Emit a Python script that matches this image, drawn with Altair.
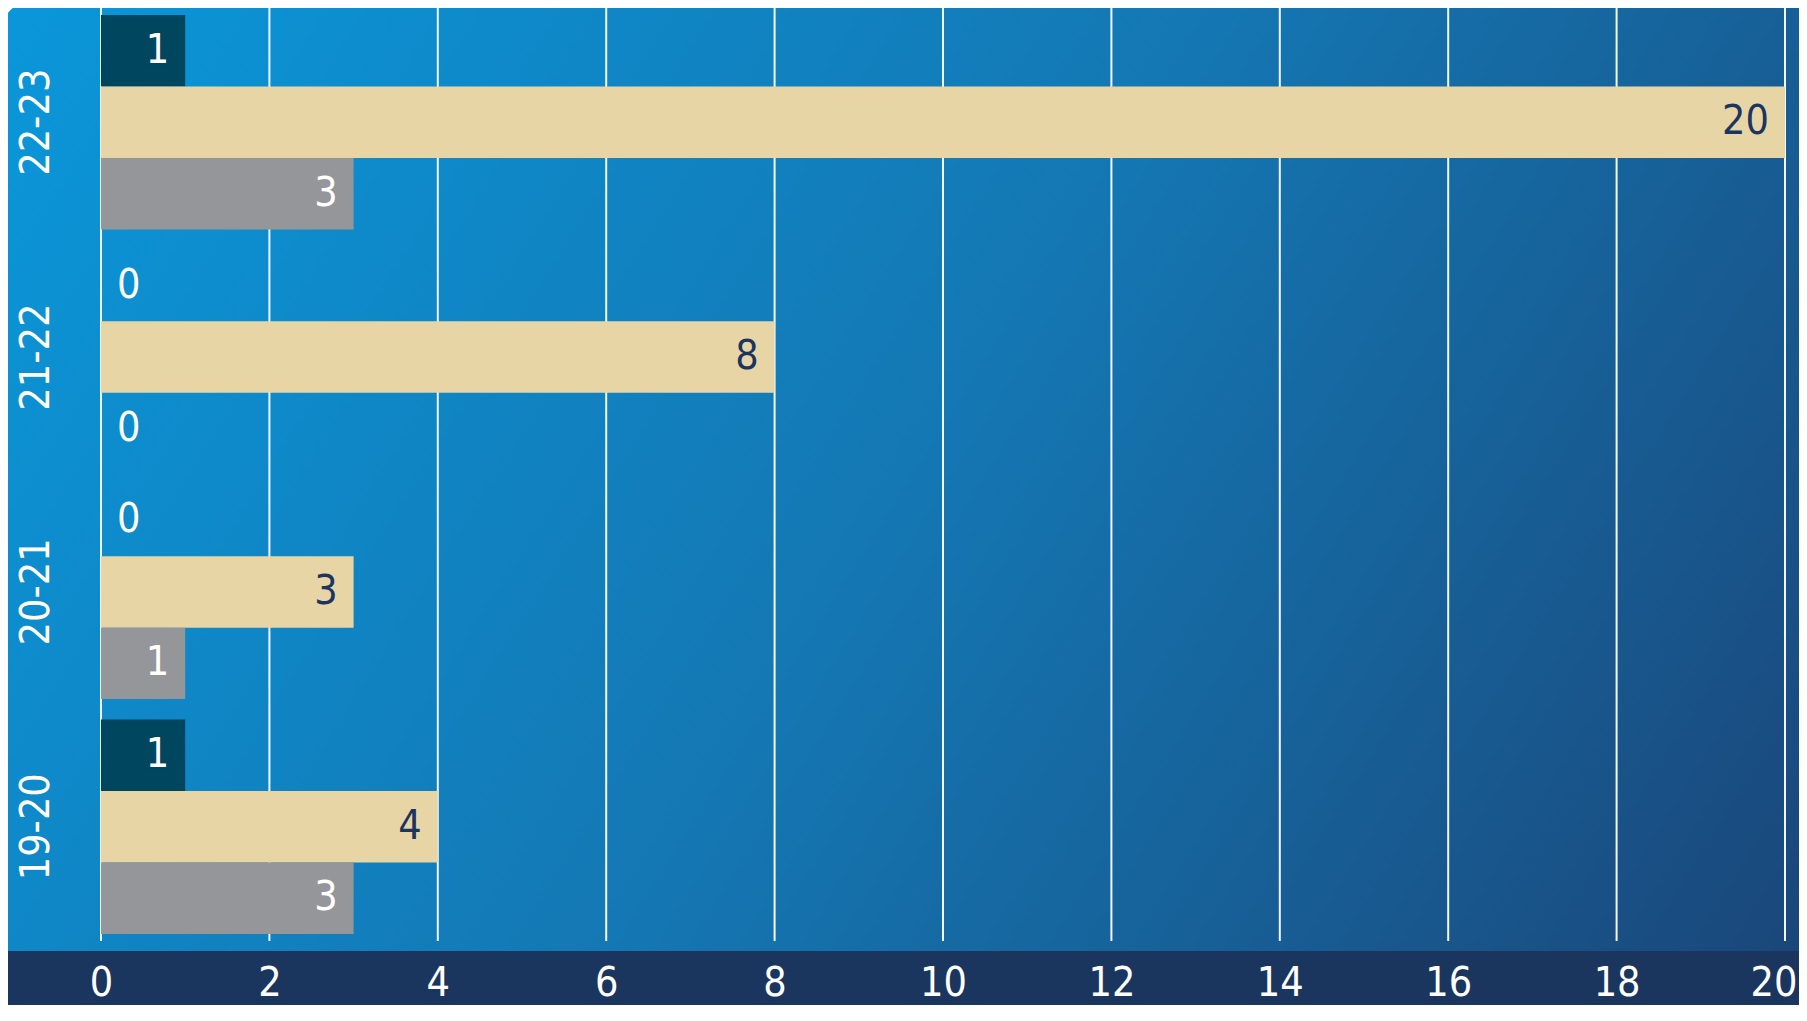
import altair as alt
import pandas as pd

# ---- data ----
years = ["19-20", "20-21", "21-22", "22-23"]
series_names = ["A", "B", "C"]          # top, middle, bottom bar in each group
series_a = [1, 0, 0, 1]                 # dark teal bars
series_b = [4, 3, 8, 20]                # tan bars
series_c = [3, 1, 0, 3]                 # gray bars
series_colors = ["#01465f", "#e8d5a5", "#959699"]
tick_values = [0, 2, 4, 6, 8, 10, 12, 14, 16, 18, 20]

rows = []
for i, y in enumerate(years):
    for s, vals in zip(series_names, [series_a, series_b, series_c]):
        rows.append({"year": y, "series": s, "value": vals[i]})
df = pd.DataFrame(rows)
ticks_df = pd.DataFrame({"t": tick_values})
one = pd.DataFrame({"k": [0]})

W, H = 1684, 933
PAD_L, PAD_R, PAD_B = 93, 14, 64
FONT = "Liberation Sans Narrow, DejaVu Sans Condensed, sans-serif"
FS = 41

x_scale = alt.Scale(domain=[0, 20], nice=False, zero=True)
x_axis = alt.Axis(values=tick_values, title=None, grid=False, domain=False,
                  ticks=False, tickSize=0, labelFlush=False, labelOverlap=False,
                  labelAlign={"condition": {"test": "datum.value == 20", "value": "right"},
                              "value": "center"},
                  labelOffset={"condition": {"test": "datum.value == 20", "value": 12},
                               "value": 0},
                  labelFont=FONT, labelFontSize=FS, labelColor="white",
                  labelPadding=22, zindex=2)
y_sort = years[::-1]
y_scale = alt.Scale(paddingInner=0.087, paddingOuter=0.03)
y_axis = alt.Axis(title=None, grid=False, domain=False, ticks=False, tickSize=0,
                  labelAngle=270, labelAlign="center", labelBaseline="alphabetic",
                  labelFont=FONT, labelFontSize=FS, labelColor="white",
                  labelPadding=53, zindex=2)
yoff = alt.YOffset("series:N", sort=series_names,
                   scale=alt.Scale(paddingInner=0, paddingOuter=0))

gradient = alt.Gradient(
    gradient="linear",
    stops=[alt.GradientStop(color="#0a97da", offset=0),
           alt.GradientStop(color="#1478b4", offset=0.5),
           alt.GradientStop(color="#1a477a", offset=1)],
    x1=0, y1=0, x2=1.2, y2=0.4,
)

bg = alt.Chart(one).mark_rect(fill=gradient, cornerRadiusTopLeft=35).encode(
    x=alt.value(-PAD_L - 8), x2=alt.value(W + PAD_R),
    y=alt.value(-8), y2=alt.value(H + 10),
)

band = alt.Chart(one).mark_rect(fill="#1a365f").encode(
    x=alt.value(-PAD_L - 8), x2=alt.value(W + PAD_R),
    y=alt.value(H + 10), y2=alt.value(H + PAD_B),
)

grid = alt.Chart(ticks_df).mark_rule(color="white", strokeWidth=2, opacity=0.95).encode(
    x=alt.X("t:Q", scale=x_scale, axis=x_axis),
)

bars = alt.Chart(df).mark_bar().encode(
    x=alt.X("value:Q", scale=x_scale, axis=x_axis),
    y=alt.Y("year:N", sort=y_sort, scale=y_scale, axis=y_axis),
    yOffset=yoff,
    color=alt.Color("series:N", scale=alt.Scale(domain=series_names, range=series_colors),
                    legend=None),
)

txt_color = alt.condition(alt.datum.series == "B", alt.value("#1b3560"), alt.value("white"))

labels_pos = alt.Chart(df).transform_filter(alt.datum.value > 0).mark_text(
    align="right", baseline="middle", dx=-16, font=FONT, fontSize=FS,
).encode(
    x=alt.X("value:Q", scale=x_scale, axis=x_axis),
    y=alt.Y("year:N", sort=y_sort, scale=y_scale, axis=y_axis),
    yOffset=yoff,
    text=alt.Text("value:Q"),
    color=txt_color,
)

labels_zero = alt.Chart(df).transform_filter(alt.datum.value == 0).mark_text(
    align="left", baseline="middle", dx=16, font=FONT, fontSize=FS,
).encode(
    x=alt.X("value:Q", scale=x_scale, axis=x_axis),
    y=alt.Y("year:N", sort=y_sort, scale=y_scale, axis=y_axis),
    yOffset=yoff,
    text=alt.Text("value:Q"),
    color=txt_color,
)

chart = alt.layer(bg, band, grid, bars, labels_pos, labels_zero).properties(
    width=W, height=H,
    autosize=alt.AutoSizeParams(type="none"),
    padding={"left": PAD_L, "top": 0, "right": PAD_R, "bottom": PAD_B},
).configure_view(stroke=None)

chart.save("out.html", embed_options={"renderer": "svg", "actions": False})
